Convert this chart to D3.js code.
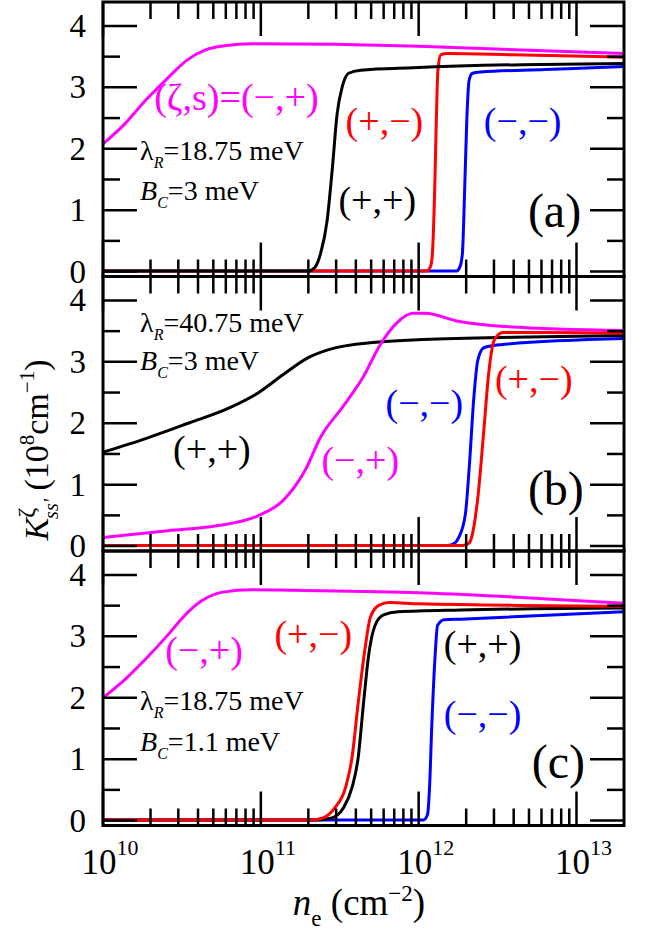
<!DOCTYPE html>
<html>
<head>
<meta charset="utf-8">
<script src="https://cdn.jsdelivr.net/npm/d3@7/dist/d3.min.js"></script>
<style>
  body { margin: 0; background: #fff; }
  text { font-family: "Liberation Serif", "Times New Roman", serif; }
</style>
</head>
<body>
<div id="chart"></div>
<script>
// x values are log10(n_e / cm^-2), y values are K (10^8 cm^-1)
// panel (a): lambda_R = 18.75 meV, B_C = 3 meV
const aMinusPlus = [[10.0,2.08],[10.14,2.41],[10.27,2.79],[10.41,3.15],[10.53,3.44],[10.65,3.61],[10.78,3.68],[10.94,3.71],[11.47,3.70],[12.0,3.67],[12.53,3.62],[13.3,3.55]];
const aPlusPlus  = [[10.0,0.01],[11.30,0.01],[11.34,0.06],[11.378,0.29],[11.42,0.83],[11.452,1.65],[11.484,2.58],[11.516,3.01],[11.556,3.23],[11.632,3.28],[11.968,3.32],[12.648,3.37],[13.3,3.39]];
const aPlusMinus = [[10.0,0.01],[12.05,0.01],[12.075,0.08],[12.087,0.29],[12.102,1.38],[12.112,2.47],[12.122,3.28],[12.14,3.53],[12.18,3.55],[12.6,3.53],[13.3,3.49]];
const aMinusMinus= [[10.0,0.01],[12.24,0.01],[12.262,0.08],[12.277,0.29],[12.292,1.38],[12.305,2.47],[12.32,3.12],[12.341,3.23],[12.394,3.25],[12.8,3.29],[13.3,3.34]];

// panel (b): lambda_R = 40.75 meV, B_C = 3 meV
const bPlusPlus  = [[10.0,1.53],[10.27,1.75],[10.54,2.0],[10.8,2.25],[10.98,2.49],[11.14,2.79],[11.30,3.07],[11.43,3.2],[11.73,3.32],[11.99,3.36],[12.6,3.40],[13.3,3.43]];
const bMinusPlus = [[10.0,0.14],[10.41,0.25],[10.72,0.33],[10.98,0.49],[11.14,0.74],[11.28,1.23],[11.38,1.78],[11.52,2.27],[11.65,2.76],[11.75,3.25],[11.86,3.63],[11.965,3.79],[12.04,3.79],[12.25,3.66],[12.52,3.58],[13.3,3.51]];
const bMinusMinus= [[10.0,0.01],[12.18,0.01],[12.23,0.05],[12.254,0.14],[12.296,0.52],[12.322,1.34],[12.35,2.43],[12.375,3.03],[12.413,3.23],[12.52,3.28],[13.3,3.38]];
const bPlusMinus = [[10.0,0.01],[12.28,0.01],[12.32,0.05],[12.335,0.14],[12.375,0.79],[12.413,1.89],[12.444,2.82],[12.48,3.36],[12.533,3.48],[12.79,3.48],[13.3,3.47]];

// panel (c): lambda_R = 18.75 meV, B_C = 1.1 meV
const cMinusPlus = [[10.0,2.0],[10.14,2.30],[10.27,2.63],[10.41,3.02],[10.51,3.32],[10.62,3.57],[10.76,3.72],[10.94,3.76],[11.21,3.75],[12.0,3.71],[12.53,3.65],[13.3,3.54]];
const cPlusMinus = [[10.0,0.01],[11.32,0.01],[11.39,0.04],[11.47,0.21],[11.537,0.54],[11.578,1.03],[11.617,1.92],[11.657,2.74],[11.695,3.32],[11.75,3.51],[11.816,3.55],[12.0,3.53],[13.3,3.49]];
const cPlusPlus  = [[10.0,0.01],[11.35,0.01],[11.444,0.04],[11.524,0.21],[11.578,0.54],[11.617,1.03],[11.651,1.92],[11.683,2.69],[11.724,3.18],[11.778,3.35],[11.87,3.40],[12.267,3.43],[13.3,3.46]];
const cMinusMinus= [[10.0,0.01],[12.03,0.01],[12.056,0.1],[12.069,0.54],[12.083,1.53],[12.103,2.63],[12.12,3.18],[12.162,3.27],[12.267,3.28],[13.3,3.40]];

const xMajorExp = [10, 11, 12, 13];
const yTickValues = [0, 1, 2, 3, 4];
const panelNames = ["(a)", "(b)", "(c)"];
const lambdaR = ["18.75", "40.75", "18.75"];
const bC = ["3", "3", "1.1"];

const colors = { pp: "#000000", pm: "#ff0000", mp: "#ff00ff", mm: "#0000ff" };

// annotation placement, in data units [log10 n, K]
const panels = [
  {
    series: [["mp", aMinusPlus], ["mm", aMinusMinus], ["pm", aPlusMinus], ["pp", aPlusPlus]],
    labels: [["mp", "(ζ,s)=(−,+)", 10.324, 2.63], ["pm", "(+,−)", 11.537, 2.24], ["mm", "(−,−)", 12.413, 2.24], ["pp", "(+,+)", 11.492, 0.96]],
    params: [10.235, 1.81, 1.16], tag: [12.692, 0.72]
  },
  {
    series: [["pp", bPlusPlus], ["mp", bMinusPlus], ["mm", bMinusMinus], ["pm", bPlusMinus]],
    labels: [["pp", "(+,+)", 10.444, 1.37], ["mp", "(−,+)", 11.384, 1.19], ["mm", "(−,−)", 11.79, 2.12], ["pm", "(+,−)", 12.483, 2.51]],
    params: [10.235, 3.48, 2.86], tag: [12.692, 0.67]
  },
  {
    series: [["mp", cMinusPlus], ["mm", cMinusMinus], ["pp", cPlusPlus], ["pm", cPlusMinus]],
    labels: [["mp", "(−,+)", 10.394, 2.56], ["pm", "(+,−)", 11.086, 2.82], ["pp", "(+,+)", 12.159, 2.66], ["mm", "(−,−)", 12.159, 1.52]],
    params: [10.235, 1.80, 1.14], tag: [12.717, 0.70]
  }
];

const W = 648, H = 933;
const left = 103, right = 624;
const panelH = 274.5, firstTop = 2;

const svg = d3.select("#chart").append("svg")
  .attr("width", W).attr("height", H);

const x = d3.scaleLog().domain([1e10, 2e13]).range([left, right]);
const y = d3.scaleLinear().domain([-0.08, 4.39]).range([panelH, 0]);

const line = d3.line()
  .x(d => x(Math.pow(10, d[0])))
  .y(d => y(d[1]))
  .curve(d3.curveMonotoneX);

// minor and major x ticks
const xTicks = [];
for (let e = 10; e <= 13; e++) {
  for (let k = 1; k <= 9; k++) {
    const v = k * Math.pow(10, e);
    if (v < 2e13) xTicks.push({v: v, major: k === 1});
  }
}
const yTicksAll = d3.range(0, 4.01, 0.5).map(v => ({v: v, major: Math.abs(v - Math.round(v)) < 1e-6}));

panels.forEach((p, i) => {
  const top = firstTop + i * panelH;
  const g = svg.append("g").attr("transform", "translate(0," + top + ")");

  // curves
  p.series.forEach(s => {
    g.append("path")
      .datum(s[1])
      .attr("d", line)
      .attr("fill", "none")
      .attr("stroke", colors[s[0]])
      .attr("stroke-width", 3);
  });

  // ticks (inward, all four sides)
  xTicks.forEach(t => {
    const len = t.major ? 34 : 17;
    const xx = x(t.v);
    g.append("line").attr("x1", xx).attr("x2", xx).attr("y1", panelH).attr("y2", panelH - len)
      .attr("stroke", "#000").attr("stroke-width", 2.5);
    g.append("line").attr("x1", xx).attr("x2", xx).attr("y1", 0).attr("y2", len)
      .attr("stroke", "#000").attr("stroke-width", 2.5);
  });
  yTicksAll.forEach(t => {
    const len = t.major ? 34 : 17;
    const yy = y(t.v);
    g.append("line").attr("x1", left).attr("x2", left + len).attr("y1", yy).attr("y2", yy)
      .attr("stroke", "#000").attr("stroke-width", 2.5);
    g.append("line").attr("x1", right).attr("x2", right - len).attr("y1", yy).attr("y2", yy)
      .attr("stroke", "#000").attr("stroke-width", 2.5);
  });

  // frame
  g.append("rect").attr("x", left).attr("y", 0).attr("width", right - left).attr("height", panelH)
    .attr("fill", "none").attr("stroke", "#000").attr("stroke-width", 3);

  // y tick labels
  yTickValues.forEach(v => {
    g.append("text").attr("x", 86).attr("y", y(v) + 11)
      .attr("text-anchor", "end").attr("font-size", 33).text(v);
  });

  // curve labels
  p.labels.forEach(l => {
    g.append("text").attr("x", x(Math.pow(10, l[2]))).attr("y", y(l[3]))
      .attr("font-size", 38).attr("fill", colors[l[0]]).text(l[1]);
  });

  // parameters
  const px = x(Math.pow(10, p.params[0]));
  const t1 = g.append("text").attr("x", px).attr("y", y(p.params[1])).attr("font-size", 28);
  t1.append("tspan").text("λ");
  t1.append("tspan").attr("font-size", 16).attr("font-style", "italic").attr("dy", 8).text("R");
  t1.append("tspan").attr("dy", -8).text("=" + lambdaR[i] + " meV");
  const t2 = g.append("text").attr("x", px).attr("y", y(p.params[2])).attr("font-size", 28);
  t2.append("tspan").attr("font-style", "italic").text("B");
  t2.append("tspan").attr("font-size", 16).attr("font-style", "italic").attr("dy", 8).text("C");
  t2.append("tspan").attr("dy", -8).text("=" + bC[i] + " meV");

  // panel tag
  g.append("text").attr("x", x(Math.pow(10, p.tag[0]))).attr("y", y(p.tag[1]))
    .attr("font-size", 48).text(panelNames[i]);
});

// x tick labels
xMajorExp.forEach(e => {
  const t = svg.append("text").attr("x", x(Math.pow(10, e)) + 7).attr("y", 874)
    .attr("text-anchor", "middle").attr("font-size", 35);
  t.append("tspan").text("10");
  t.append("tspan").attr("font-size", 22).attr("dy", -19).text(e);
});

// x axis title
const xt = svg.append("text").attr("x", 359).attr("y", 915)
  .attr("text-anchor", "middle").attr("font-size", 37);
xt.append("tspan").attr("font-style", "italic").text("n");
xt.append("tspan").attr("font-size", 23).attr("dy", 11).text("e");
xt.append("tspan").attr("dy", -11).text(" (cm");
xt.append("tspan").attr("font-size", 23).attr("dy", -14).text("−2");
xt.append("tspan").attr("dy", 14).text(")");

// y axis title
const yt = svg.append("text").attr("transform", "translate(48,450) rotate(-90)")
  .attr("text-anchor", "middle").attr("font-size", 34);
yt.append("tspan").attr("font-style", "italic").text("K");
yt.append("tspan").attr("font-size", 24).attr("dy", -14).text("ζ");
yt.append("tspan").attr("font-size", 20).attr("font-style", "italic").attr("dx", -11).attr("dy", 24).text("ss'");
yt.append("tspan").attr("dy", -10).text(" (10");
yt.append("tspan").attr("font-size", 21).attr("dy", -14).text("8");
yt.append("tspan").attr("dy", 14).text("cm");
yt.append("tspan").attr("font-size", 21).attr("dy", -14).text("−1");
yt.append("tspan").attr("dy", 14).text(")");
</script>
</body>
</html>
